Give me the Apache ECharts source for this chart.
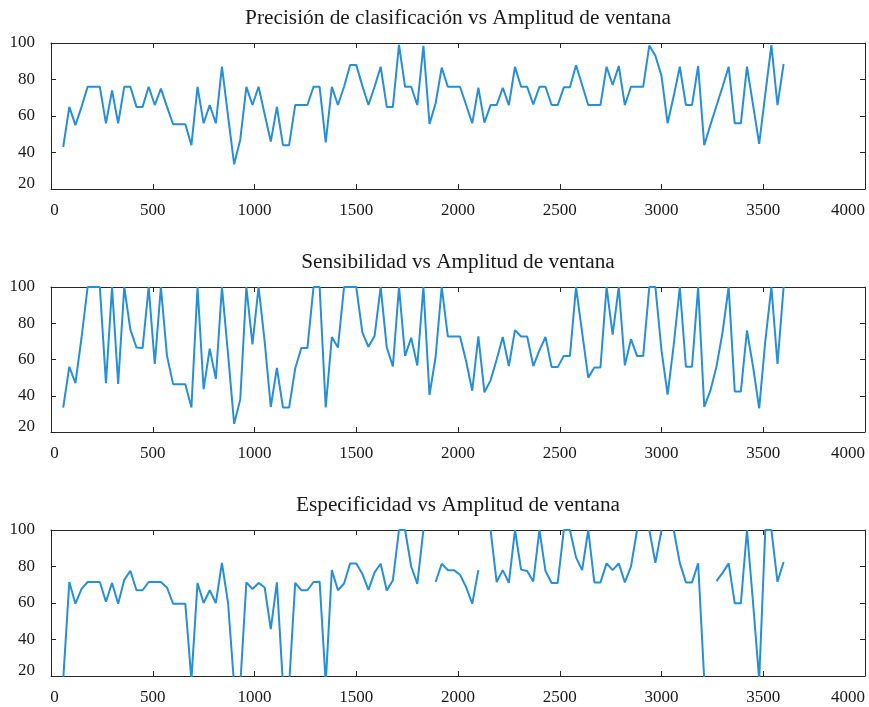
<!DOCTYPE html>
<html>
<head>
<meta charset="utf-8">
<title>Amplitud de ventana</title>
<script src="https://cdn.jsdelivr.net/npm/echarts@6/dist/echarts.min.js"></script>
<style>
  html, body { margin: 0; padding: 0; background: #fff; }
  #chart { width: 869px; height: 707px; }
</style>
</head>
<body>
<div id="chart"></div>
<script>
// amplitud de ventana (eje x)
const windowSizes = [
  60, 90, 120, 150, 180, 210, 240, 270, 300, 330, 360, 390, 420, 450, 480, 510, 540, 570, 600, 630,
  660, 690, 720, 750, 780, 810, 840, 870, 900, 930, 960, 990, 1020, 1050, 1080, 1110, 1140, 1170, 1200, 1230,
  1260, 1290, 1320, 1350, 1380, 1410, 1440, 1470, 1500, 1530, 1560, 1590, 1620, 1650, 1680, 1710, 1740, 1770, 1800, 1830,
  1860, 1890, 1920, 1950, 1980, 2010, 2040, 2070, 2100, 2130, 2160, 2190, 2220, 2250, 2280, 2310, 2340, 2370, 2400, 2430,
  2460, 2490, 2520, 2550, 2580, 2610, 2640, 2670, 2700, 2730, 2760, 2790, 2820, 2850, 2880, 2910, 2940, 2970, 3000, 3030,
  3060, 3090, 3120, 3150, 3180, 3210, 3240, 3270, 3300, 3330, 3360, 3390, 3420, 3450, 3480, 3510, 3540, 3570, 3600
]

const precision = [
  43, 65, 55, 65, 76, 76, 76, 56, 74, 56, 76, 76, 65, 65, 76, 66, 75, 65, 55.5, 55.5,
  55.5, 44, 76, 56, 66, 56, 87, 60, 33.5, 47, 76, 66, 76, 61, 46, 65, 44, 44, 66, 66,
  66, 76, 76, 45.5, 76, 66, 76, 88, 88, 76.5, 66, 76, 87, 65, 65, 99, 76, 76, 66, 98.5,
  55.7, 67, 86.5, 76, 76, 76, 66, 56, 75.5, 56.4, 66, 66, 75.5, 66, 87, 76, 76, 66.3, 76, 76,
  66, 66, 75.7, 75.7, 87.8, 77, 66, 66, 66, 87, 77, 87.4, 66, 76, 76, 76, 98.6, 93, 82, 56,
  71, 87, 66, 66, 87.4, 44, 55, 65.5, 76, 87, 56, 56, 87, 66, 44.7, 72, 98.8, 66, 88.5
]

const sensitivity = [
  33.5, 56, 47, 72, 100, 100, 100, 47, 100, 46.5, 100, 76.5, 66.6, 66.3, 100, 57.5, 100, 62, 46.4, 46.4,
  46.4, 33.5, 100, 43.6, 66, 49.3, 100, 63, 24.5, 38, 100, 68.3, 100, 70, 33.8, 55.4, 33.5, 33.5, 55, 66.3,
  66.3, 100, 100, 33.5, 72.4, 66.6, 100, 100, 100, 75, 67, 73, 100, 66.6, 56.2, 100, 62, 72, 56.7, 100,
  40.4, 61.5, 100, 72.7, 72.7, 72.7, 59, 42.8, 72.7, 41.9, 48.5, 60, 72.4, 56.4, 76.2, 72.7, 72.7, 56.4, 65, 72.4,
  55.8, 55.8, 62, 62, 100, 75, 50, 55.6, 55.6, 100, 73.7, 100, 56.8, 71.2, 61.9, 61.9, 100, 100, 65, 40.6,
  68, 100, 56, 56, 100, 33.8, 42.8, 56, 75, 100, 42.4, 42.4, 76, 56, 33, 70, 100, 57.5, 100
]

// null = sin valor (hueco en la curva)
const specificity = [
  18, 71.5, 59.6, 67.7, 71.5, 71.5, 71.5, 60.7, 71, 59.6, 72.7, 77.7, 67, 67, 71.5, 71.5, 71.5, 68.5, 59.6, 59.6,
  59.6, 18, 71, 60, 67, 60, 82, 60, 15, 15, 71.3, 67.7, 71, 68.5, 45.7, 71.3, 15, 15, 71, 67,
  67, 71.5, 71.7, 16, 78, 67, 70.7, 81.7, 81.7, 76, 67.2, 76.8, 81.5, 66.9, 72.5, 100, 100, 80, 70.5, 100,
  null, 71.5, 81.5, 78, 78, 75.5, 68.7, 59.6, 78, null, 100, 71.5, 78, 71, 100, 78.3, 77.5, 71.8, 100, 77.5,
  71, 71, 100, 100, 85, 78, 100, 71.3, 71.3, 81.7, 78, 81.7, 71.3, 80, 100, null, 100, 82, 100, null,
  100, 82, 71.3, 71.3, 81.7, 18, null, 72, 76.5, 81.7, 59.8, 59.8, 100, 60, 18, 100, 100, 71.6, 82.5
]

const titles = [
  'Precisión de clasificación vs Amplitud de ventana',
  'Sensibilidad vs Amplitud de ventana',
  'Especificidad vs Amplitud de ventana'
]
const xTicks = { min: 0, max: 4000, interval: 500 }
const yTicks = { min: 20, max: 100, interval: 20 }

const lineColor = '#268fd5'
const axisColor = '#262626'
const fontFamily = 'Liberation Serif, Times New Roman, serif'
const gridTops = [43, 287, 530]
const gridHeights = [146, 145, 146]

function pairs (values) {
  return windowSizes.map((x, i) => [x, values[i]])
}

const chart = echarts.init(document.getElementById('chart'), null, { renderer: 'canvas' })

const grids = []
const xAxes = []
const yAxes = []
const series = []
const titleList = []
const seriesValues = [precision, sensitivity, specificity]

seriesValues.forEach((values, i) => {
  grids.push({ left: 51, right: 4, top: gridTops[i], height: gridHeights[i] })
  titleList.push({
    text: titles[i],
    left: 458,
    textAlign: 'center',
    top: gridTops[i] - 35,
    padding: 0,
    textStyle: { fontFamily: fontFamily, fontSize: 21.3, fontWeight: 'normal', color: '#1a1a1a' }
  })
  const axisLine = { show: true, onZero: false, lineStyle: { color: axisColor, width: 1 } }
  const tick = { show: true, inside: true, length: 5, lineStyle: { color: axisColor } }
  const labelFont = { fontFamily: fontFamily, fontSize: 17, color: '#1a1a1a' }
  // eje x inferior con etiquetas
  xAxes.push({
    type: 'value', gridIndex: i, position: 'bottom',
    min: xTicks.min, max: xTicks.max, interval: xTicks.interval,
    axisLine: axisLine, axisTick: tick, splitLine: { show: false },
    axisLabel: Object.assign({
      margin: 13,
      formatter: function (v) {
        if (v === 4000) return '{last|' + v + '}'
        if (v === 0) return '{first|' + v + '}'
        return String(v)
      },
      rich: {
        last: Object.assign({ padding: [0, 34, 0, 0] }, labelFont),
        first: Object.assign({ padding: [0, 0, 0, 7] }, labelFont)
      }
    }, labelFont)
  })
  // eje x superior (marco)
  xAxes.push({
    type: 'value', gridIndex: i, position: 'top',
    min: xTicks.min, max: xTicks.max, interval: xTicks.interval,
    axisLine: axisLine, axisTick: tick, splitLine: { show: false },
    axisLabel: { show: false }
  })
  yAxes.push({
    type: 'value', gridIndex: i, position: 'left',
    min: yTicks.min, max: yTicks.max, interval: yTicks.interval,
    axisLine: axisLine, axisTick: tick, splitLine: { show: false },
    axisLabel: Object.assign({
      margin: 16,
      formatter: function (v) {
        return v === 20 ? '{low|' + v + '}' : String(v)
      },
      rich: {
        low: Object.assign({ padding: [0, 0, 10, 0] }, labelFont)
      }
    }, labelFont)
  })
  yAxes.push({
    type: 'value', gridIndex: i, position: 'right',
    min: yTicks.min, max: yTicks.max, interval: yTicks.interval,
    axisLine: axisLine, axisTick: tick, splitLine: { show: false },
    axisLabel: { show: false }
  })
  series.push({
    type: 'line',
    xAxisIndex: i * 2,
    yAxisIndex: i * 2,
    data: pairs(values),
    showSymbol: false,
    symbol: 'none',
    clip: true,
    connectNulls: false,
    lineStyle: { color: lineColor, width: 2 },
    itemStyle: { color: lineColor }
  })
})

chart.setOption({
  animation: false,
  backgroundColor: '#ffffff',
  title: titleList,
  grid: grids,
  xAxis: xAxes,
  yAxis: yAxes,
  series: series
})
</script>
</body>
</html>
